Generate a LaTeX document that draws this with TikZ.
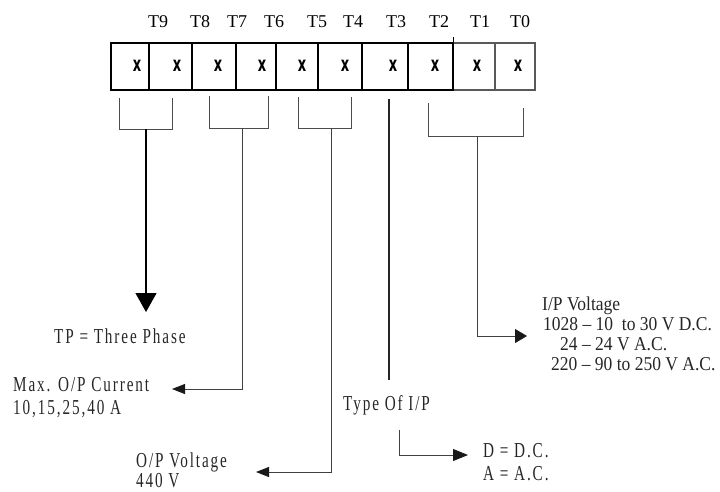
\documentclass[tikz,border=0pt]{standalone}
\usepackage{fontspec}
\setmainfont{Liberation Serif}
\newfontfamily\spc[LetterSpace=10,FakeStretch=0.8]{Liberation Serif}
\newfontfamily\xfnt{DejaVu Sans}
\usetikzlibrary{arrows.meta}
\newcommand{\tallA}[1]{\scalebox{1}[1.12]{#1}}
\begin{document}
\begin{tikzpicture}[x=1pt,y=-1pt,
  tlab/.style={anchor=base,font=\fontsize{18}{20}\selectfont,inner sep=0pt},
  xmark/.style={font=\fontsize{13}{15}\selectfont\xfnt\bfseries,inner sep=0pt},
  sptxt/.style={anchor=base west,font=\fontsize{19}{21}\selectfont\spc,inner sep=0pt,text=black!85},
  iptxt/.style={anchor=base west,font=\fontsize{17.5}{20}\selectfont,inner sep=0pt,text=black!85},
  conn/.style={draw=black!75,line width=0.9pt},
  smallarrow/.style={conn,-{Triangle[length=13pt,width=10pt,color=black!90]}},
  bigarrow/.style={draw=black,line width=1.3pt,-{Triangle[length=19pt,width=21pt]}},
  bracket/.style={draw=black!70,line width=0.9pt},
  cellline/.style={draw=black,line width=1.6pt},
  greycell/.style={draw=black!65,line width=1.3pt}
]
\useasboundingbox (0,0) rectangle (720,491);
% register box
\draw[greycell] (453,43) rectangle (535,90);
\draw[greycell] (495,43) -- (495,90);
\draw[cellline,line width=2pt] (111,43) rectangle (453,90);
\foreach \xx in {149,192,236,276,318,362,408} \draw[cellline] (\xx,43) -- (\xx,90);
\draw[black,line width=1pt] (453,37) -- (453,43);
% labels
\foreach \lab/\xx in {T9/158,T8/200,T7/237,T6/274,T5/317,T4/353,T3/396,T2/439,T1/480,T0/520}
  \node[tlab] (lab\lab) at (\xx,27) {\lab};
\foreach \nn/\xx in {9/137,8/177,7/218,6/262,5/302,4/345,3/393,2/435,1/477,0/518}
  \node[xmark] (x\nn) at (\xx,66) {\scalebox{1}[1.6]{x}};
% brackets
\draw[bracket] (119,98) -- (119,129) -- (172,129) -- (172,98);
\draw[bracket] (209,96) -- (209,128) -- (268,128) -- (268,96);
\draw[bracket] (298,97) -- (298,128) -- (351,128) -- (351,97);
\draw[bracket] (428,103) -- (428,136) -- (523,136) -- (523,108);
\coordinate (s1) at (146,129);
\coordinate (s2) at (242,128);
\coordinate (s3) at (331,128);
\coordinate (s4) at (389,99);
\coordinate (s5) at (477,136);
\coordinate (e4) at (389,380);
% texts
\node[sptxt] (tp) at (54,343) {\tallA{TP = Three Phase}};
\node[sptxt] (max1) at (13,391) {\tallA{Max. O/P Current}};
\node[sptxt] (max2) at (13,414) {\tallA{10,15,25,40 A}};
\node[sptxt] (opv1) at (136,467) {\tallA{O/P Voltage}};
\node[sptxt] (opv2) at (136,487) {\tallA{440 V}};
\node[sptxt] (type) at (343,410) {\tallA{Type Of I/P}};
\node[sptxt] (dc) at (483,457) {\tallA{D = D.C.}};
\node[sptxt] (ac) at (483,480) {\tallA{A = A.C.}};
\node[iptxt] (ip0) at (542,310) {\tallA{I/P Voltage}};
\node[iptxt] (ip1) at (543,330) {\tallA{1028 -- 10\ \ to 30 V D.C.}};
\node[iptxt] (ip2) at (560,350) {\tallA{24 -- 24 V A.C.}};
\node[iptxt] (ip3) at (551,370) {\tallA{220 -- 90 to 250 V A.C.}};
\coordinate (a1) at (146,312);
\coordinate (a2) at (172,389);
\coordinate (a3) at (256,472);
\coordinate (a5) at (527,336);
\coordinate (d0) at (399,430);
\coordinate (d1) at (468,455);
% connectors
\draw[bigarrow] (s1) -- (a1);
\draw[smallarrow] (s2) |- (a2);
\draw[smallarrow] (s3) |- (a3);
\draw[draw=black!85,line width=1.2pt] (s4) -- (e4);
\draw[conn,-{Triangle[length=12pt,width=14pt,color=black!90]}] (s5) |- (a5);
\draw[conn,-{Triangle[length=15pt,width=12pt,color=black!90]}] (d0) |- (d1);
\end{tikzpicture}
\end{document}
